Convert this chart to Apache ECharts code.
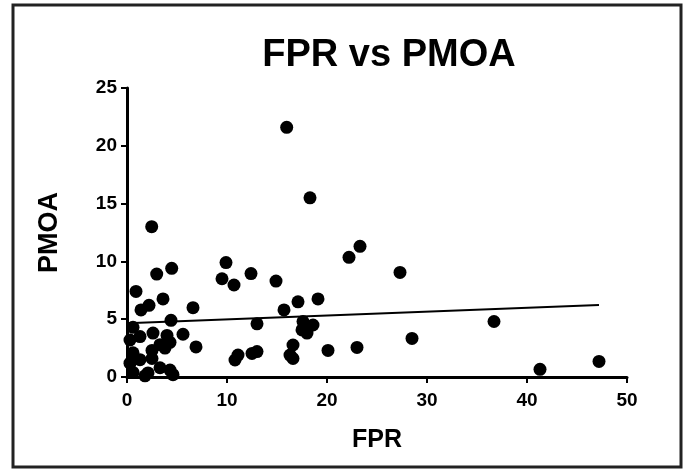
<!DOCTYPE html>
<html>
<head>
<meta charset="utf-8">
<script src="https://cdn.jsdelivr.net/npm/echarts@6/dist/echarts.min.js"></script>
<style>
html,body{margin:0;padding:0;background:#fff;}
#c{width:684px;height:469px;}
</style>
</head>
<body>
<div id="c"></div>
<script>
// FPR (x) values
var fpr = [15.97, 18.3, 2.47, 23.3, 22.2, 9.9, 27.3, 4.47, 2.97, 9.5, 12.4, 10.7, 14.9, 0.9, 3.6, 2.2, 1.4, 6.6,
  19.1, 17.1, 15.7, 13.0, 17.6, 17.5, 18.6, 18.0, 28.5, 23.0, 20.1, 16.6, 16.3, 16.6, 11.1, 12.5, 10.8, 13.0,
  36.7, 41.3, 47.2, 4.4, 5.6, 6.9,
  0.6, 0.3, 1.3, 2.6, 4.0, 3.3, 2.5, 0.6, 0.3, 1.3, 2.5, 0.6, 2.1, 3.3, 4.3, 4.6, 1.8, 3.8, 4.3];
// PMOA (y) values
var pmoa = [21.6, 15.5, 13.0, 11.3, 10.35, 9.9, 9.05, 9.4, 8.9, 8.5, 8.95, 7.96, 8.3, 7.4, 6.75, 6.2, 5.8, 6.0,
  6.75, 6.5, 5.8, 4.6, 4.8, 4.07, 4.5, 3.8, 3.34, 2.56, 2.3, 2.77, 1.9, 1.6, 1.9, 2.04, 1.47, 2.2,
  4.8, 0.66, 1.35, 4.9, 3.7, 2.6,
  4.3, 3.2, 3.5, 3.8, 3.6, 2.8, 2.3, 2.1, 1.2, 1.5, 1.6, 0.4, 0.35, 0.8, 0.6, 0.2, 0.1, 2.5, 3.0];
// regression line end points
var fitX = [0, 47.2];
var fitY = [4.64, 6.22];
var xTicks = [0, 10, 20, 30, 40, 50];
var yTicks = [0, 5, 10, 15, 20, 25];

var pts = fpr.map(function (x, i) { return [x, pmoa[i]]; });
var fit = fitX.map(function (x, i) { return [x, fitY[i]]; });

var chart = echarts.init(document.getElementById('c'), null, {renderer: 'canvas'});
var FONT = '"Liberation Sans", Arial, sans-serif';
chart.setOption({
  backgroundColor: '#ffffff',
  animation: false,
  title: {
    text: 'FPR vs PMOA',
    left: 384, top: 32, textAlign: 'center',
    textStyle: {fontFamily: FONT, fontWeight: 'bold', fontSize: 38, color: '#000'}
  },
  graphic: [{
    type: 'rect', shape: {x: 13, y: 5, width: 668, height: 462},
    style: {fill: null, stroke: '#222', lineWidth: 3}, silent: true
  }],
  grid: {left: 127, right: 57, top: 88, bottom: 92},
  xAxis: {
    type: 'value', min: xTicks[0], max: xTicks[xTicks.length - 1], interval: 10,
    name: 'FPR', nameLocation: 'middle', nameGap: 51,
    nameTextStyle: {fontFamily: FONT, fontWeight: 'bold', fontSize: 25, color: '#000'},
    axisLine: {show: true, onZero: false, lineStyle: {color: '#000', width: 3}},
    axisTick: {show: true, length: 6, lineStyle: {color: '#000', width: 2}},
    axisLabel: {margin: 14, fontFamily: FONT, fontWeight: 'bold', fontSize: 19, color: '#000'},
    splitLine: {show: false}
  },
  yAxis: {
    type: 'value', min: yTicks[0], max: yTicks[yTicks.length - 1], interval: 5,
    name: 'PMOA', nameLocation: 'middle', nameGap: 64, nameRotate: 90,
    nameTextStyle: {fontFamily: FONT, fontWeight: 'bold', fontSize: 27, color: '#000'},
    axisLine: {show: true, onZero: false, lineStyle: {color: '#000', width: 3}},
    axisTick: {show: true, length: 6, lineStyle: {color: '#000', width: 2}},
    axisLabel: {margin: 10, fontFamily: FONT, fontWeight: 'bold', fontSize: 19, color: '#000'},
    splitLine: {show: false}
  },
  series: [{
    type: 'scatter', data: pts, symbol: 'circle', symbolSize: 13,
    itemStyle: {color: '#000', opacity: 1}, z: 3
  }, {
    type: 'line', data: fit, showSymbol: false, symbol: 'none',
    lineStyle: {color: '#000', width: 2}, z: 4
  }]
});
</script>
</body>
</html>
